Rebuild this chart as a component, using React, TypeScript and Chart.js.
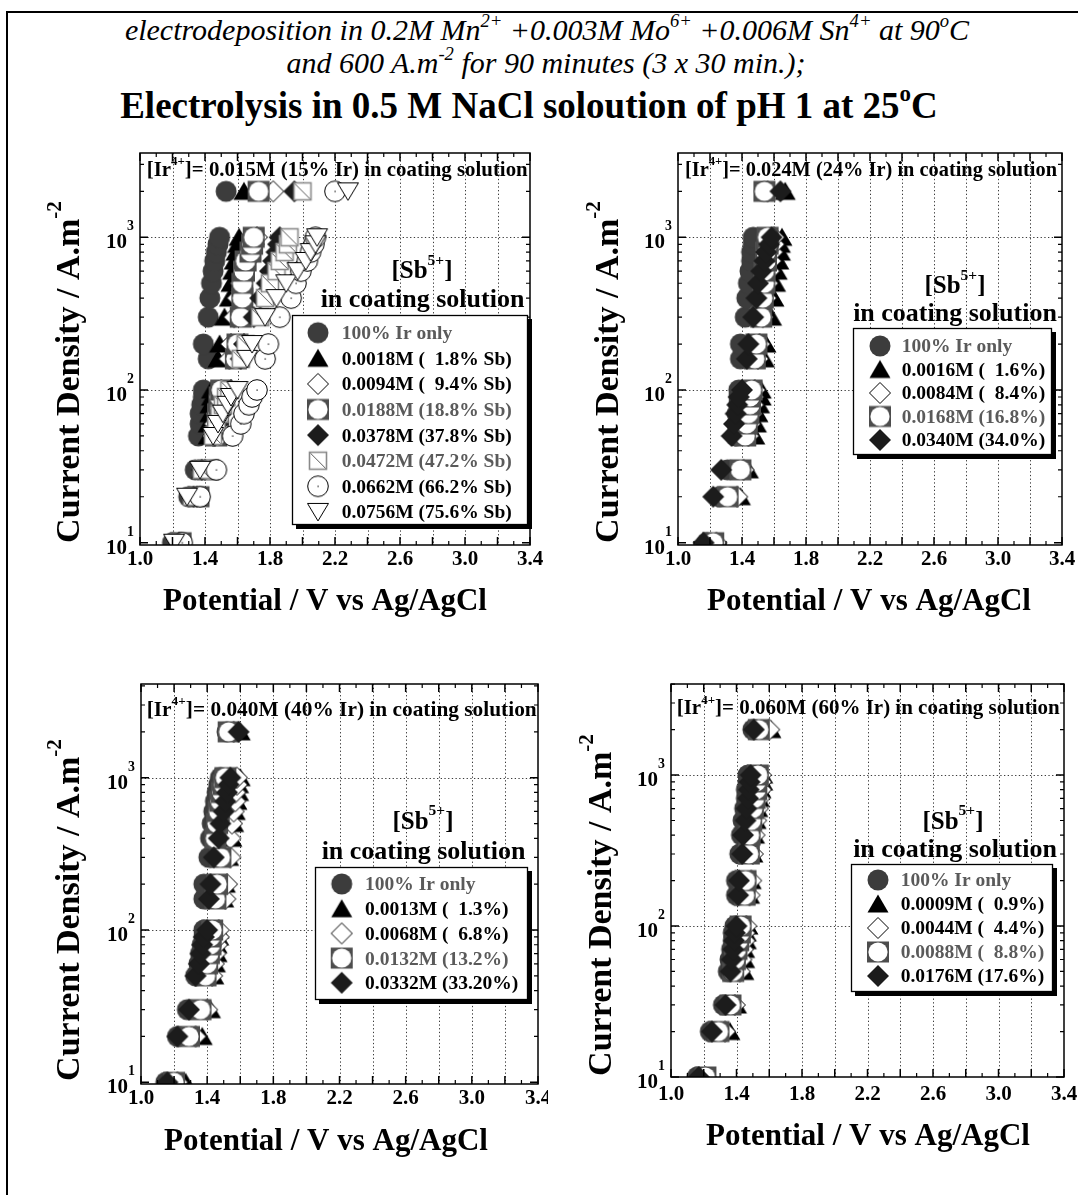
import React, { useEffect, useRef } from 'react';
import { Chart, registerables } from 'chart.js';

Chart.register(...registerables);

const FONT = '"Liberation Serif", "Times New Roman", Times, serif';

// ---------------- shared axis data ----------------
const currentLevels = [10, 20, 30, 50, 60, 70, 80, 90, 100, 160, 200, 300, 400, 500, 600, 700, 800, 900, 1000, 2000];
const xTickLabels = ['1.0', '1.4', '1.8', '2.2', '2.6', '3.0', '3.4'];
const yTickExponents = ['1', '2', '3'];
const irLabels = ['0.015M (15% Ir)', '0.024M (24% Ir)', '0.040M (40% Ir)', '0.060M (60% Ir)'];

// ---------------- panel 1 : 15% Ir (potential, V) ----------------
const ir15IrOnly = [1.20, 1.30, 1.34, 1.36, 1.37, 1.37, 1.38, 1.39, 1.39, 1.42, 1.39, 1.42, 1.43, 1.44, 1.45, 1.46, 1.47, 1.48, 1.49, 1.53];
const ir15Sb0018 = [1.24, 1.34, 1.38, 1.42, 1.42, 1.43, 1.43, 1.44, 1.44, 1.48, 1.49, 1.52, 1.55, 1.56, 1.57, 1.58, 1.59, 1.60, 1.61, 1.64];
const ir15Sb0094 = [1.25, 1.35, 1.40, 1.45, 1.46, 1.47, 1.48, 1.49, 1.50, 1.55, 1.56, 1.58, 1.60, 1.62, 1.64, 1.66, 1.68, 1.70, 1.72, 1.82];
const ir15Sb0188 = [1.25, 1.36, 1.42, 1.47, 1.48, 1.48, 1.49, 1.49, 1.50, 1.59, 1.60, 1.62, 1.63, 1.63, 1.64, 1.65, 1.68, 1.69, 1.70, 1.73];
const ir15Sb0378 = [1.24, 1.33, 1.38, 1.46, 1.48, 1.50, 1.52, 1.54, 1.56, 1.62, 1.64, 1.70, 1.74, 1.78, 1.80, 1.82, 1.84, 1.85, 1.86, 1.95];
const ir15Sb0472 = [1.24, 1.32, 1.38, 1.45, 1.47, 1.49, 1.51, 1.53, 1.55, 1.62, 1.65, 1.74, 1.77, 1.80, 1.84, 1.86, 1.89, 1.91, 1.92, 2.00];
const ir15Sb0662 = [1.26, 1.37, 1.47, 1.57, 1.62, 1.64, 1.67, 1.69, 1.72, 1.77, 1.79, 1.86, 1.93, 1.96, 1.99, 2.03, 2.05, 2.07, 2.08, 2.20];
const ir15Sb0756 = [1.21, 1.29, 1.37, 1.45, 1.48, 1.51, 1.54, 1.56, 1.60, 1.66, 1.69, 1.77, 1.84, 1.90, 1.97, 2.02, 2.05, 2.08, 2.09, 2.28];
const ir15Legend = ['100% Ir only', '0.0018M (  1.8% Sb)', '0.0094M (  9.4% Sb)', '0.0188M (18.8% Sb)', '0.0378M (37.8% Sb)', '0.0472M (47.2% Sb)', '0.0662M (66.2% Sb)', '0.0756M (75.6% Sb)'];

// ---------------- panel 2 : 24% Ir ----------------
const ir24IrOnly = [1.18, 1.26, 1.31, 1.36, 1.37, 1.37, 1.38, 1.38, 1.38, 1.39, 1.39, 1.42, 1.43, 1.44, 1.45, 1.46, 1.46, 1.47, 1.47, 1.54];
const ir24Sb0016 = [1.26, 1.39, 1.44, 1.48, 1.49, 1.50, 1.51, 1.52, 1.52, 1.54, 1.55, 1.585, 1.60, 1.61, 1.62, 1.63, 1.64, 1.64, 1.65, 1.67];
const ir24Sb0084 = [1.24, 1.37, 1.41, 1.44, 1.45, 1.46, 1.47, 1.47, 1.48, 1.50, 1.51, 1.53, 1.55, 1.56, 1.57, 1.58, 1.59, 1.60, 1.60, 1.56];
const ir24Sb0168 = [1.22, 1.31, 1.39, 1.42, 1.43, 1.44, 1.45, 1.45, 1.46, 1.48, 1.49, 1.52, 1.53, 1.54, 1.54, 1.55, 1.55, 1.56, 1.56, 1.54];
const ir24Sb0340 = [1.16, 1.22, 1.27, 1.335, 1.35, 1.36, 1.37, 1.38, 1.40, 1.43, 1.44, 1.47, 1.49, 1.50, 1.52, 1.54, 1.55, 1.57, 1.585, 1.64];
const ir24Legend = ['100% Ir only', '0.0016M (  1.6%)', '0.0084M (  8.4%)', '0.0168M (16.8%)', '0.0340M (34.0%)'];

// ---------------- panel 3 : 40% Ir ----------------
const ir40IrOnly = [1.15, 1.22, 1.28, 1.33, 1.35, 1.36, 1.37, 1.38, 1.38, 1.38, 1.38, 1.41, 1.42, 1.43, 1.44, 1.45, 1.46, 1.47, 1.48, 1.52];
const ir40Sb0013 = [1.27, 1.37, 1.42, 1.44, 1.45, 1.46, 1.46, 1.47, 1.47, 1.50, 1.51, 1.53, 1.55, 1.56, 1.57, 1.58, 1.59, 1.59, 1.60, 1.60];
const ir40Sb0068 = [1.22, 1.33, 1.40, 1.43, 1.44, 1.45, 1.46, 1.47, 1.47, 1.51, 1.52, 1.54, 1.54, 1.55, 1.56, 1.57, 1.57, 1.58, 1.58, 1.56];
const ir40Sb0132 = [1.20, 1.29, 1.36, 1.39, 1.40, 1.41, 1.42, 1.42, 1.43, 1.45, 1.46, 1.48, 1.45, 1.46, 1.47, 1.48, 1.49, 1.50, 1.51, 1.53];
const ir40Sb0332 = [1.16, 1.22, 1.29, 1.33, 1.35, 1.36, 1.37, 1.38, 1.40, 1.41, 1.42, 1.44, 1.47, 1.48, 1.50, 1.51, 1.52, 1.53, 1.54, 1.59];
const ir40Legend = ['100% Ir only', '0.0013M (  1.3%)', '0.0068M (  6.8%)', '0.0132M (13.2%)', '0.0332M (33.20%)'];

// ---------------- panel 4 : 60% Ir ----------------
const ir60IrOnly = [1.16, 1.24, 1.32, 1.35, 1.36, 1.37, 1.38, 1.38, 1.39, 1.40, 1.40, 1.42, 1.43, 1.44, 1.45, 1.46, 1.46, 1.47, 1.47, 1.50];
const ir60Sb0009 = [1.23, 1.36, 1.40, 1.445, 1.45, 1.45, 1.46, 1.46, 1.47, 1.48, 1.49, 1.50, 1.51, 1.52, 1.53, 1.54, 1.55, 1.56, 1.56, 1.61];
const ir60Sb0044 = [1.21, 1.33, 1.39, 1.42, 1.43, 1.44, 1.45, 1.45, 1.46, 1.48, 1.49, 1.50, 1.51, 1.52, 1.53, 1.54, 1.55, 1.55, 1.55, 1.60];
const ir60Sb0088 = [1.21, 1.29, 1.363, 1.38, 1.39, 1.40, 1.41, 1.42, 1.425, 1.45, 1.455, 1.475, 1.48, 1.49, 1.50, 1.51, 1.52, 1.52, 1.53, 1.536];
const ir60Sb0176 = [1.17, 1.25, 1.333, 1.363, 1.37, 1.38, 1.385, 1.39, 1.40, 1.41, 1.415, 1.435, 1.44, 1.455, 1.46, 1.47, 1.475, 1.48, 1.486, 1.506];
const ir60Legend = ['100% Ir only', '0.0009M (  0.9%)', '0.0044M (  4.4%)', '0.0088M (  8.8%)', '0.0176M (17.6%)'];

// ---------------- styling / layout ----------------
type Kind = 'ir' | 'triUp' | 'diaOpen' | 'sqCircle' | 'diaBlack' | 'sqSlash' | 'circDot' | 'triDown';
const kinds8: Kind[] = ['ir', 'triUp', 'diaOpen', 'sqCircle', 'diaBlack', 'sqSlash', 'circDot', 'triDown'];
const kinds5: Kind[] = ['ir', 'triUp', 'diaOpen', 'sqCircle', 'diaBlack'];

interface Box { left: number; top: number; width: number; height: number }
interface PanelCfg {
  key: string;
  irLabel: string;
  series: number[][];
  legend: string[];
  kinds: Kind[];
  grayRows: number[];
  box: Box;
  area: { L: number; T: number; R: number; B: number };
  yMin: number;
  yMax: number;
  ann: { x: number; y: number; w: number };
  sb: { cx: number; y: number };
  coat: { cx: number; y: number };
  lg: { L: number; T: number; R: number; B: number; y0: number; dy: number; mx: number; tx: number };
  yTitle: { cx: number; cy: number };
  xTitle: { cx: number; cy: number };
  xLabelDy: number;
}

const panels: PanelCfg[] = [
  {
    key: 'A', irLabel: irLabels[0],
    series: [ir15IrOnly, ir15Sb0018, ir15Sb0094, ir15Sb0188, ir15Sb0378, ir15Sb0472, ir15Sb0662, ir15Sb0756],
    legend: ir15Legend, kinds: kinds8, grayRows: [0, 3, 5],
    box: { left: 8, top: 140, width: 540, height: 490 },
    area: { L: 140, T: 153, R: 530, B: 545 }, yMin: 9.66, yMax: 3565,
    ann: { x: 146.7, y: 169, w: 381 }, sb: { cx: 422, y: 270 }, coat: { cx: 422.5, y: 298 },
    lg: { L: 292, T: 315, R: 528, B: 525, y0: 332.7, dy: 25.6, mx: 318, tx: 341.7 },
    yTitle: { cx: 68, cy: 372 }, xTitle: { cx: 325, cy: 600 }, xLabelDy: 13,
  },
  {
    key: 'B', irLabel: irLabels[1],
    series: [ir24IrOnly, ir24Sb0016, ir24Sb0084, ir24Sb0168, ir24Sb0340],
    legend: ir24Legend, kinds: kinds5, grayRows: [0, 3],
    box: { left: 548, top: 140, width: 530, height: 490 },
    area: { L: 678, T: 153, R: 1062, B: 545 }, yMin: 9.66, yMax: 3565,
    ann: { x: 685, y: 169, w: 372 }, sb: { cx: 955, y: 285 }, coat: { cx: 955, y: 312 },
    lg: { L: 853, T: 328, R: 1052, B: 455, y0: 346, dy: 23.5, mx: 880, tx: 901.7 },
    yTitle: { cx: 607, cy: 372 }, xTitle: { cx: 869, cy: 600 }, xLabelDy: 13,
  },
  {
    key: 'C', irLabel: irLabels[2],
    series: [ir40IrOnly, ir40Sb0013, ir40Sb0068, ir40Sb0132, ir40Sb0332],
    legend: ir40Legend, kinds: kinds5, grayRows: [0, 3],
    box: { left: 8, top: 670, width: 540, height: 510 },
    area: { L: 141, T: 684, R: 541, B: 1084 }, yMin: 9.75, yMax: 4121,
    ann: { x: 146.7, y: 709, w: 390 }, sb: { cx: 423, y: 820.5 }, coat: { cx: 423.5, y: 850 },
    lg: { L: 315, T: 867, R: 528, B: 1000, y0: 884, dy: 24.7, mx: 341.7, tx: 365 },
    yTitle: { cx: 68, cy: 910 }, xTitle: { cx: 326, cy: 1140 }, xLabelDy: 13,
  },
  {
    key: 'D', irLabel: irLabels[3],
    series: [ir60IrOnly, ir60Sb0009, ir60Sb0044, ir60Sb0088, ir60Sb0176],
    legend: ir60Legend, kinds: kinds5, grayRows: [0, 3],
    box: { left: 548, top: 670, width: 530, height: 510 },
    area: { L: 671, T: 684, R: 1064, B: 1077 }, yMin: 10, yMax: 4008,
    ann: { x: 676.7, y: 707.5, w: 383 }, sb: { cx: 953, y: 820.5 }, coat: { cx: 955, y: 848 },
    lg: { L: 851, T: 864, R: 1053, B: 992, y0: 880, dy: 24, mx: 878, tx: 900.7 },
    yTitle: { cx: 600, cy: 905 }, xTitle: { cx: 868, cy: 1135 }, xLabelDy: 16,
  },
];

// ---------------- helpers ----------------
type Part = { t: string; sup?: boolean };

function fontStr(size: number, bold: boolean, italic: boolean) {
  return `${italic ? 'italic ' : ''}${bold ? 'bold ' : ''}${size}px ${FONT}`;
}

function drawRich(
  ctx: CanvasRenderingContext2D, parts: Part[], x: number, capY: number, size: number,
  o: { align?: 'left' | 'center' | 'right'; bold?: boolean; italic?: boolean; color?: string; fit?: number; supScale?: number; supRise?: number } = {}
) {
  const bold = o.bold ?? true;
  const supSize = size * (o.supScale ?? 0.62);
  const rise = size * (o.supRise ?? 0.45);
  const widths: number[] = [];
  let total = 0;
  for (const p of parts) {
    ctx.font = fontStr(p.sup ? supSize : size, bold, !!o.italic);
    const w = ctx.measureText(p.t).width;
    widths.push(w);
    total += w;
  }
  const s = o.fit ? o.fit / total : 1;
  const drawn = total * s;
  let sx = x;
  if (o.align === 'center') sx = x - drawn / 2;
  else if (o.align === 'right') sx = x - drawn;
  const baseline = capY + size * 0.33;
  ctx.save();
  ctx.translate(sx, baseline);
  ctx.scale(s, 1);
  ctx.fillStyle = o.color ?? '#000';
  ctx.textAlign = 'left';
  ctx.textBaseline = 'alphabetic';
  let cx = 0;
  parts.forEach((p, i) => {
    ctx.font = fontStr(p.sup ? supSize : size, bold, !!o.italic);
    ctx.fillText(p.t, cx, p.sup ? -rise : 0);
    cx += widths[i];
  });
  ctx.restore();
}

function makeMarker(kind: Kind): HTMLCanvasElement {
  const S = 24;
  const c = document.createElement('canvas');
  c.width = S;
  c.height = S;
  const g = c.getContext('2d')!;
  const poly = (pts: number[][]) => {
    g.beginPath();
    g.moveTo(pts[0][0], pts[0][1]);
    for (let i = 1; i < pts.length; i++) g.lineTo(pts[i][0], pts[i][1]);
    g.closePath();
  };
  switch (kind) {
    case 'ir':
      g.fillStyle = '#3c3c3c';
      g.beginPath(); g.arc(12, 12, 10.5, 0, Math.PI * 2); g.fill();
      break;
    case 'triUp':
      g.fillStyle = '#000';
      poly([[12, 2.5], [22.5, 20.5], [1.5, 20.5]]); g.fill();
      break;
    case 'diaOpen':
      g.fillStyle = '#fff'; g.strokeStyle = '#000'; g.lineWidth = 1;
      poly([[12, 1.5], [22.5, 12], [12, 22.5], [1.5, 12]]); g.fill(); g.stroke();
      break;
    case 'sqCircle':
      g.fillStyle = '#4d4d4d'; g.fillRect(1, 1.5, 22, 21);
      g.fillStyle = '#fff'; g.beginPath(); g.arc(12, 12, 9.6, 0, Math.PI * 2); g.fill();
      break;
    case 'diaBlack':
      g.fillStyle = '#1c1c1c';
      poly([[12, 1], [23, 12], [12, 23], [1, 12]]); g.fill();
      break;
    case 'sqSlash':
      g.fillStyle = '#fff'; g.fillRect(3.5, 3.5, 17, 17);
      g.strokeStyle = '#8a8a8a'; g.lineWidth = 1.6; g.strokeRect(3.5, 3.5, 17, 17);
      g.strokeStyle = '#333'; g.lineWidth = 0.8;
      g.beginPath(); g.moveTo(4.5, 4.5); g.lineTo(19.5, 19.5); g.stroke();
      break;
    case 'circDot':
      g.fillStyle = '#fff'; g.strokeStyle = '#000'; g.lineWidth = 1;
      g.beginPath(); g.arc(12, 12, 10.3, 0, Math.PI * 2); g.fill(); g.stroke();
      g.fillStyle = '#000'; g.fillRect(11.5, 11.5, 1.2, 1.2);
      break;
    case 'triDown':
      g.fillStyle = '#fff'; g.strokeStyle = '#000'; g.lineWidth = 1;
      poly([[1.5, 3.5], [22.5, 3.5], [12, 21]]); g.fill(); g.stroke();
      break;
  }
  return c;
}

function decorPlugin(cfg: PanelCfg, markers: Record<string, HTMLCanvasElement>) {
  const ox = cfg.box.left;
  const oy = cfg.box.top;
  return {
    id: 'decor' + cfg.key,
    beforeDatasetsDraw(chart: any) {
      const { ctx, chartArea: a } = chart;
      const xs = chart.scales.x;
      const ys = chart.scales.y;
      ctx.save();
      ctx.strokeStyle = '#3a3a3a';
      ctx.lineWidth = 1;
      ctx.setLineDash([1.3, 2.4]);
      for (let k = 1; k < 12; k++) {
        const v = 1 + k * 0.2;
        const px = Math.round(xs.getPixelForValue(v)) + 0.5;
        ctx.beginPath(); ctx.moveTo(px, a.top); ctx.lineTo(px, a.bottom); ctx.stroke();
      }
      for (const e of yTickExponents) {
        const py = ys.getPixelForValue(Math.pow(10, Number(e)));
        if (py > a.top + 4 && py < a.bottom - 4) {
          const yy = Math.round(py) + 0.5;
          ctx.beginPath(); ctx.moveTo(a.left, yy); ctx.lineTo(a.right, yy); ctx.stroke();
        }
      }
      ctx.restore();
    },
    afterDatasetsDraw(chart: any) {
      const { ctx, chartArea: a } = chart;
      const xs = chart.scales.x;
      const ys = chart.scales.y;
      ctx.save();
      // frame
      ctx.strokeStyle = '#000';
      ctx.lineWidth = 1.5;
      ctx.strokeRect(a.left, a.top, a.right - a.left, a.bottom - a.top);
      // x ticks (inward, top & bottom)
      for (let k = 0; k <= 24; k++) {
        const v = 1 + k * 0.1;
        const px = xs.getPixelForValue(v);
        const len = k % 2 === 0 ? 8 : 4;
        ctx.lineWidth = k % 2 === 0 ? 1.5 : 1.2;
        ctx.beginPath();
        ctx.moveTo(px, a.bottom); ctx.lineTo(px, a.bottom - len);
        ctx.moveTo(px, a.top); ctx.lineTo(px, a.top + len);
        ctx.stroke();
      }
      // y ticks (log, inward, left & right)
      for (let e = 0; e <= 3; e++) {
        for (let m = 1; m <= 9; m++) {
          const v = m * Math.pow(10, e);
          if (v < cfg.yMin || v > cfg.yMax) continue;
          const py = ys.getPixelForValue(v);
          const len = m === 1 ? 8 : 4;
          ctx.lineWidth = m === 1 ? 1.5 : 1.2;
          ctx.beginPath();
          ctx.moveTo(a.left, py); ctx.lineTo(a.left + len, py);
          ctx.moveTo(a.right, py); ctx.lineTo(a.right - len, py);
          ctx.stroke();
        }
      }
      // tick labels
      for (const lbl of xTickLabels) {
        const px = xs.getPixelForValue(parseFloat(lbl));
        drawRich(ctx, [{ t: lbl }], px, a.bottom + cfg.xLabelDy, 21, { align: 'center' });
      }
      for (const e of yTickExponents) {
        const py = ys.getPixelForValue(Math.pow(10, Number(e)));
        drawRich(ctx, [{ t: '10' }, { t: e, sup: true }], a.left - 6, py + 4, 21, { align: 'right', supScale: 0.66, supRise: 0.85 });
      }
      // axis titles
      ctx.save();
      ctx.translate(cfg.yTitle.cx - ox, cfg.yTitle.cy - oy);
      ctx.rotate(-Math.PI / 2);
      drawRich(ctx, [{ t: 'Current Density / A.m' }, { t: '-2', sup: true }], 0, 0, 34, { align: 'center', supScale: 0.62, supRise: 0.55 });
      ctx.restore();
      drawRich(ctx, [{ t: 'Potential / V vs Ag/AgCl' }], cfg.xTitle.cx - ox, cfg.xTitle.cy - oy, 31, { align: 'center' });
      // annotations
      drawRich(ctx, [{ t: '[Ir' }, { t: '4+', sup: true }, { t: `]= ${cfg.irLabel} in coating solution` }],
        cfg.ann.x - ox, cfg.ann.y - oy, 21, { align: 'left', fit: cfg.ann.w, supScale: 0.62, supRise: 0.5 });
      drawRich(ctx, [{ t: '[Sb' }, { t: '5+', sup: true }, { t: ']' }], cfg.sb.cx - ox, cfg.sb.y - oy, 25, { align: 'center', supScale: 0.62, supRise: 0.55 });
      drawRich(ctx, [{ t: 'in coating solution' }], cfg.coat.cx - ox, cfg.coat.y - oy, 26, { align: 'center' });
      // legend
      const lg = cfg.lg;
      const L = lg.L - ox, T = lg.T - oy, W = lg.R - lg.L, H = lg.B - lg.T;
      ctx.fillStyle = '#000';
      ctx.fillRect(L + 4, T + 4, W, H);
      ctx.fillStyle = '#fff';
      ctx.fillRect(L, T, W, H);
      ctx.strokeStyle = '#000';
      ctx.lineWidth = 1.3;
      ctx.strokeRect(L + 0.5, T + 0.5, W - 1, H - 1);
      cfg.legend.forEach((label, i) => {
        const ry = lg.y0 + i * lg.dy - oy;
        const mk = markers[cfg.kinds[i]];
        ctx.drawImage(mk, lg.mx - ox - mk.width / 2, ry - mk.height / 2);
        drawRich(ctx, [{ t: label }], lg.tx - ox, ry, 19.5, { align: 'left', color: cfg.grayRows.includes(i) ? '#5a5a5a' : '#000' });
      });
      ctx.restore();
    },
  };
}

function Panel({ cfg }: { cfg: PanelCfg }) {
  const ref = useRef<HTMLCanvasElement>(null);
  useEffect(() => {
    const canvas = ref.current;
    if (!canvas) return;
    const markers: Record<string, HTMLCanvasElement> = {};
    for (const k of kinds8) markers[k] = makeMarker(k);
    const { box, area } = cfg;
    const chart = new Chart(canvas, {
      type: 'scatter',
      data: {
        datasets: cfg.series.map((xs, i) => ({
          label: cfg.legend[i],
          data: currentLevels.map((y, j) => ({ x: xs[j], y })),
          pointStyle: markers[cfg.kinds[i]] as any,
          pointRadius: 10,
          pointHoverRadius: 10,
          pointBorderWidth: 0,
          showLine: false,
          order: -i,
          clip: 0,
        })),
      },
      options: {
        animation: false,
        responsive: false,
        devicePixelRatio: 1,
        events: [],
        layout: {
          padding: {
            left: area.L - box.left,
            top: area.T - box.top,
            right: box.left + box.width - area.R,
            bottom: box.top + box.height - area.B,
          },
        },
        plugins: { legend: { display: false }, tooltip: { enabled: false } },
        scales: {
          x: { type: 'linear', min: 1.0, max: 3.4, display: false },
          y: { type: 'logarithmic', min: cfg.yMin, max: cfg.yMax, display: false },
        },
      } as any,
      plugins: [decorPlugin(cfg, markers)],
    });
    return () => chart.destroy();
  }, [cfg]);
  return (
    <canvas
      ref={ref}
      width={cfg.box.width}
      height={cfg.box.height}
      style={{ position: 'absolute', left: cfg.box.left, top: cfg.box.top, width: cfg.box.width, height: cfg.box.height }}
    />
  );
}

const Sup = ({ children }: { children: React.ReactNode }) => (
  <span style={{ fontSize: '0.62em', position: 'relative', top: '-0.72em', lineHeight: 0 }}>{children}</span>
);

function lineStyle(cx: number, capY: number, size: number, bold: boolean, italic: boolean): React.CSSProperties {
  return {
    position: 'absolute', left: cx - 540, width: 1080, top: capY - size * 0.5,
    fontSize: size, lineHeight: `${size}px`, fontFamily: FONT,
    fontWeight: bold ? 'bold' : 'normal', fontStyle: italic ? 'italic' : 'normal',
    textAlign: 'center', whiteSpace: 'pre', color: '#000',
  };
}

export default function App() {
  return (
    <div style={{ position: 'absolute', left: 0, top: 0, width: 1078, height: 1195, background: '#fff', overflow: 'hidden' }}>
      <div style={{ position: 'absolute', left: 6, top: 11, width: 2, height: 1184, background: '#000' }} />
      <div style={{ position: 'absolute', left: 6, top: 11, width: 1072, height: 2, background: '#000' }} />
      <div style={lineStyle(547, 30, 30, false, true)}>
        electrodeposition in 0.2M Mn<Sup>2+</Sup> +0.003M Mo<Sup>6+</Sup> +0.006M Sn<Sup>4+</Sup> at 90<Sup>o</Sup>C
      </div>
      <div style={lineStyle(546, 63, 30, false, true)}>
        and 600 A.m<Sup>-2</Sup> for 90 minutes (3 x 30 min.);
      </div>
      <div style={lineStyle(529, 105, 37, true, false)}>
        Electrolysis in 0.5 M NaCl soloution of pH 1 at 25<Sup>o</Sup>C
      </div>
      {panels.map((p) => (
        <Panel key={p.key} cfg={p} />
      ))}
    </div>
  );
}
